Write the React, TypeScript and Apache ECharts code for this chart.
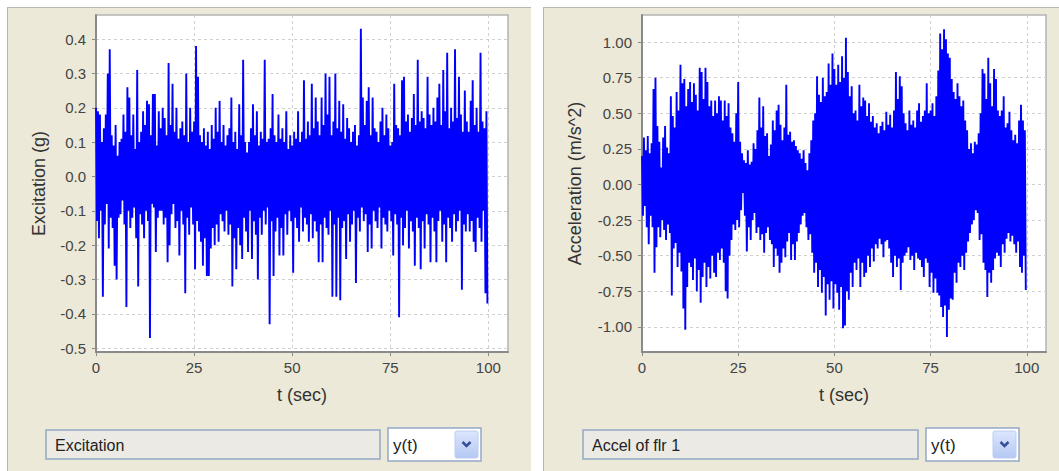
import React, { useEffect, useRef } from "react";
import * as echarts from "echarts";

// Excitation (g): upper / lower extremes read per 0.5 s bin (lower ones offset by 0.25 s)
const excitationUpper = [
  0.20,0.19,0.18,0.10,0.14,0.18,0.30,0.37,0.12,0.09,
  0.15,0.06,0.10,0.11,0.18,0.13,0.26,0.23,0.12,0.18,
  0.08,0.31,0.10,0.13,0.19,0.15,0.22,0.21,0.12,0.24,
  0.24,0.09,0.19,0.14,0.20,0.17,0.12,0.33,0.15,0.27,
  0.13,0.20,0.11,0.14,0.16,0.12,0.30,0.10,0.20,0.13,
  0.16,0.38,0.29,0.12,0.10,0.14,0.09,0.13,0.08,0.15,
  0.11,0.20,0.13,0.22,0.10,0.15,0.09,0.12,0.14,0.23,
  0.10,0.13,0.08,0.21,0.12,0.34,0.10,0.07,0.10,0.14,
  0.21,0.12,0.19,0.09,0.13,0.11,0.34,0.10,0.11,0.14,
  0.24,0.12,0.10,0.18,0.11,0.14,0.10,0.19,0.08,0.12,
  0.09,0.13,0.11,0.19,0.10,0.13,0.28,0.11,0.16,0.12,
  0.27,0.14,0.23,0.16,0.12,0.23,0.15,0.30,0.18,0.29,
  0.12,0.16,0.30,0.14,0.22,0.13,0.21,0.11,0.17,0.14,
  0.10,0.13,0.15,0.09,0.12,0.43,0.23,0.15,0.22,0.26,
  0.12,0.23,0.14,0.13,0.10,0.16,0.20,0.12,0.18,0.14,
  0.09,0.10,0.27,0.15,0.14,0.12,0.28,0.29,0.16,0.18,
  0.13,0.17,0.24,0.15,0.34,0.16,0.19,0.17,0.14,0.29,
  0.18,0.15,0.20,0.16,0.23,0.27,0.15,0.31,0.19,0.36,
  0.14,0.20,0.16,0.37,0.17,0.29,0.18,0.13,0.25,0.16,
  0.13,0.22,0.28,0.15,0.20,0.13,0.36,0.16,0.14,0.19,
];
const excitationLower = [
  -0.13,-0.18,-0.10,-0.35,-0.14,-0.08,-0.21,-0.12,-0.15,-0.26,
  -0.30,-0.12,-0.11,-0.07,-0.14,-0.38,-0.10,-0.15,-0.12,-0.09,
  -0.18,-0.32,-0.11,-0.14,-0.18,-0.10,-0.13,-0.47,-0.08,-0.09,
  -0.22,-0.12,-0.10,-0.10,-0.14,-0.12,-0.25,-0.20,-0.11,-0.08,
  -0.15,-0.13,-0.23,-0.10,-0.14,-0.34,-0.12,-0.17,-0.09,-0.14,
  -0.27,-0.13,-0.16,-0.19,-0.26,-0.18,-0.29,-0.29,-0.21,-0.15,
  -0.20,-0.14,-0.19,-0.11,-0.13,-0.16,-0.10,-0.17,-0.14,-0.32,
  -0.18,-0.27,-0.15,-0.20,-0.24,-0.12,-0.16,-0.22,-0.10,-0.24,
  -0.13,-0.17,-0.30,-0.12,-0.17,-0.10,-0.14,-0.09,-0.43,-0.13,
  -0.29,-0.16,-0.12,-0.23,-0.15,-0.23,-0.11,-0.17,-0.10,-0.13,
  -0.28,-0.12,-0.15,-0.19,-0.09,-0.16,-0.12,-0.14,-0.19,-0.11,
  -0.18,-0.13,-0.16,-0.25,-0.14,-0.25,-0.12,-0.15,-0.17,-0.10,
  -0.35,-0.14,-0.35,-0.12,-0.36,-0.15,-0.13,-0.24,-0.11,-0.19,
  -0.14,-0.10,-0.31,-0.12,-0.16,-0.09,-0.13,-0.11,-0.22,-0.14,
  -0.21,-0.10,-0.13,-0.15,-0.09,-0.21,-0.12,-0.14,-0.16,-0.10,
  -0.13,-0.23,-0.11,-0.14,-0.41,-0.12,-0.20,-0.15,-0.10,-0.21,
  -0.13,-0.16,-0.26,-0.12,-0.15,-0.27,-0.13,-0.21,-0.11,-0.14,
  -0.25,-0.12,-0.16,-0.25,-0.13,-0.10,-0.19,-0.14,-0.25,-0.12,
  -0.15,-0.19,-0.11,-0.16,-0.13,-0.10,-0.33,-0.14,-0.16,-0.11,
  -0.16,-0.13,-0.19,-0.22,-0.12,-0.15,-0.19,-0.10,-0.34,-0.37,
];

// Acceleration of floor 1 (m/s^2)
const accelUpper = [
  0.20,0.33,0.24,0.34,0.22,0.29,0.67,0.75,0.41,0.30,
  0.12,0.33,0.41,0.26,0.22,0.62,0.48,0.40,0.65,0.52,
  0.84,0.71,0.74,0.55,0.67,0.72,0.58,0.71,0.63,0.52,
  0.82,0.79,0.60,0.82,0.72,0.55,0.59,0.48,0.59,0.50,
  0.62,0.59,0.45,0.59,0.48,0.57,0.40,0.36,0.30,0.50,
  0.72,0.30,0.22,0.17,0.15,0.24,0.14,0.16,0.29,0.25,
  0.38,0.61,0.40,0.55,0.34,0.36,0.20,0.28,0.45,0.38,
  0.52,0.56,0.42,0.31,0.40,0.70,0.35,0.37,0.30,0.31,
  0.27,0.24,0.22,0.18,0.24,0.15,0.10,0.22,0.31,0.45,
  0.50,0.76,0.63,0.58,0.75,0.62,0.65,0.85,0.70,0.92,
  0.81,0.70,0.84,0.72,0.90,0.75,1.03,0.79,0.62,0.69,
  0.50,0.52,0.45,0.70,0.55,0.61,0.59,0.48,0.57,0.44,
  0.48,0.40,0.43,0.36,0.41,0.44,0.38,0.51,0.42,0.49,
  0.40,0.52,0.79,0.60,0.76,0.69,0.50,0.43,0.38,0.52,
  0.42,0.45,0.40,0.52,0.57,0.44,0.48,0.52,0.71,0.50,
  0.52,0.57,0.48,0.62,0.80,1.06,0.95,1.09,1.02,0.92,
  0.89,0.74,0.65,0.60,0.71,0.62,0.55,0.59,0.45,0.38,
  0.25,0.29,0.22,0.30,0.28,0.36,0.50,0.81,0.78,0.60,
  0.89,0.71,0.55,0.81,0.74,0.52,0.48,0.52,0.62,0.40,
  0.43,0.51,0.38,0.31,0.35,0.29,0.45,0.56,0.45,0.38,
];
const accelLower = [
  -0.22,-0.15,-0.30,-0.42,-0.22,-0.30,-0.62,-0.44,-0.30,-0.37,
  -0.25,-0.32,-0.39,-0.28,-0.34,-0.78,-0.45,-0.41,-0.58,-0.48,
  -0.61,-0.87,-1.02,-0.72,-0.55,-0.58,-0.67,-0.52,-0.75,-0.60,
  -0.83,-0.65,-0.55,-0.72,-0.58,-0.66,-0.50,-0.62,-0.65,-0.48,
  -0.53,-0.45,-0.55,-0.75,-0.80,-0.50,-0.39,-0.28,-0.32,-0.25,
  -0.30,-0.18,-0.06,-0.22,-0.47,-0.30,-0.39,-0.25,-0.20,-0.34,
  -0.30,-0.39,-0.35,-0.48,-0.34,-0.30,-0.39,-0.42,-0.58,-0.45,
  -0.50,-0.62,-0.55,-0.45,-0.51,-0.40,-0.34,-0.53,-0.42,-0.53,
  -0.40,-0.34,-0.28,-0.22,-0.20,-0.30,-0.39,-0.35,-0.48,-0.62,
  -0.55,-0.72,-0.60,-0.76,-0.65,-0.92,-0.70,-0.81,-0.68,-0.87,
  -0.70,-0.76,-0.88,-0.72,-1.01,-0.99,-0.75,-0.81,-0.62,-0.72,
  -0.55,-0.60,-0.52,-0.72,-0.55,-0.65,-0.62,-0.50,-0.58,-0.45,
  -0.54,-0.42,-0.45,-0.38,-0.42,-0.51,-0.40,-0.39,-0.45,-0.55,
  -0.65,-0.50,-0.58,-0.52,-0.74,-0.55,-0.50,-0.48,-0.44,-0.53,
  -0.50,-0.60,-0.48,-0.52,-0.53,-0.58,-0.65,-0.52,-0.55,-0.72,
  -0.62,-0.76,-0.66,-0.76,-0.78,-0.86,-0.93,-0.85,-1.07,-0.88,
  -0.80,-0.81,-0.62,-0.69,-0.55,-0.58,-0.50,-0.60,-0.48,-0.40,
  -0.34,-0.28,-0.25,-0.18,-0.20,-0.39,-0.35,-0.55,-0.60,-0.79,
  -0.62,-0.69,-0.60,-0.52,-0.48,-0.50,-0.58,-0.42,-0.48,-0.38,
  -0.34,-0.40,-0.36,-0.42,-0.48,-0.40,-0.58,-0.62,-0.50,-0.74,
];

const BIN = 0.5;
const xTicks = [0, 25, 50, 75, 100];
const excitationTicks = [-0.5, -0.4, -0.3, -0.2, -0.1, 0, 0.1, 0.2, 0.3, 0.4];
const accelTicks = [-1, -0.75, -0.5, -0.25, 0, 0.25, 0.5, 0.75, 1];

function interleave(up: number[], lo: number[]) {
  const out: number[][] = [];
  for (let i = 0; i < up.length; i++) {
    out.push([i * BIN, up[i]]);
    out.push([i * BIN + BIN / 2, lo[i]]);
  }
  return out;
}

const FONT = '"Liberation Sans", Arial, sans-serif';
const AXIS_GRAY = "#8a8a8a";

function xAxisCfg(gridIndex: number) {
  return {
    gridIndex,
    type: "value",
    min: 0,
    max: 105,
    name: "t (sec)",
    nameLocation: "middle",
    nameGap: 34,
    nameTextStyle: { fontSize: 18, color: "#333", fontFamily: FONT },
    axisLine: { show: true, onZero: false, lineStyle: { color: AXIS_GRAY, width: 2 } },
    axisTick: { show: true, length: 4, customValues: xTicks, lineStyle: { color: AXIS_GRAY } },
    axisLabel: { customValues: xTicks, fontSize: 15, color: "#444", margin: 8, fontFamily: FONT },
    splitLine: { show: true, lineStyle: { color: "#d0d0d0", type: [3, 3] } },
  };
}

function yAxisCfg(gridIndex: number, name: string, min: number, max: number, ticks: number[], dec: number, gap: number) {
  return {
    gridIndex,
    type: "value",
    min,
    max,
    name,
    nameLocation: "middle",
    nameGap: gap,
    nameTextStyle: { fontSize: 18, color: "#333", fontFamily: FONT },
    axisLine: { show: true, onZero: false, lineStyle: { color: AXIS_GRAY, width: 2 } },
    axisTick: { show: true, length: 4, customValues: ticks, lineStyle: { color: AXIS_GRAY } },
    axisLabel: {
      customValues: ticks,
      fontSize: 15,
      color: "#444",
      margin: 10,
      fontFamily: FONT,
      formatter: (v: number) => v.toFixed(dec),
    },
    splitLine: { show: true, lineStyle: { color: "#d0d0d0", type: [3, 3] } },
  };
}

function widget(fieldX: number, fieldW: number, label: string, comboX: number) {
  const y = 430;
  return [
    { type: "rect", shape: { x: fieldX, y, width: fieldW, height: 29 }, style: { fill: "#ebeae4", stroke: "#93a9c6", lineWidth: 1.5 } },
    { type: "text", x: fieldX + 9, y: y + 15, style: { text: label, font: `16px ${FONT}`, fill: "#222", verticalAlign: "middle" } },
    { type: "rect", shape: { x: comboX, y: y - 2, width: 93, height: 33 }, style: { fill: "#ffffff", stroke: "#93a9c6", lineWidth: 1.5 } },
    { type: "text", x: comboX + 5, y: y + 15, style: { text: "y(t)", font: `17px ${FONT}`, fill: "#222", verticalAlign: "middle" } },
    {
      type: "rect",
      shape: { x: comboX + 67, y: y + 1, width: 23, height: 27, r: 2 },
      style: {
        fill: new echarts.graphic.LinearGradient(0, 0, 0, 1, [
          { offset: 0, color: "#dce7fd" },
          { offset: 1, color: "#b4c8f3" },
        ]),
        stroke: "#bccdf2",
        lineWidth: 1,
      },
    },
    {
      type: "polyline",
      shape: { points: [[comboX + 74.5, y + 12], [comboX + 78.5, y + 16], [comboX + 82.5, y + 12]] },
      style: { stroke: "#34509a", lineWidth: 2.5, fill: null },
    },
  ];
}

export default function App() {
  const ref = useRef<HTMLDivElement>(null);
  useEffect(() => {
    if (!ref.current) return;
    const chart = echarts.init(ref.current, null, { renderer: "svg" });
    chart.setOption({
      animation: false,
      grid: [
        { left: 96, top: 15, width: 412, height: 337, show: true, backgroundColor: "#ffffff", borderColor: "#b4b4b4", borderWidth: 1.5 },
        { left: 642, top: 15, width: 404, height: 337, show: true, backgroundColor: "#ffffff", borderColor: "#b4b4b4", borderWidth: 1.5 },
      ],
      xAxis: [xAxisCfg(0), xAxisCfg(1)],
      yAxis: [
        yAxisCfg(0, "Excitation (g)", -0.511, 0.47, excitationTicks, 1, 48),
        yAxisCfg(1, "Acceleration (m/s^2)", -1.176, 1.19, accelTicks, 2, 58),
      ],
      graphic: [...widget(46, 334, "Excitation", 388), ...widget(583, 335, "Accel of flr 1", 926)],
      series: [
        {
          type: "line",
          xAxisIndex: 0,
          yAxisIndex: 0,
          data: interleave(excitationUpper, excitationLower),
          showSymbol: false,
          lineStyle: { color: "#0000ff", width: 1.9 },
          itemStyle: { color: "#0000ff" },
        },
        {
          type: "line",
          xAxisIndex: 1,
          yAxisIndex: 1,
          data: interleave(accelUpper, accelLower),
          showSymbol: false,
          lineStyle: { color: "#0000ff", width: 1.9 },
          itemStyle: { color: "#0000ff" },
        },
      ],
    });
    return () => chart.dispose();
  }, []);

  return (
    <div style={{ position: "fixed", left: 0, top: 0, width: 1059, height: 471, background: "#ffffff", overflow: "hidden" }}>
      <div style={{ position: "absolute", left: 7, top: 7, width: 523, height: 464, background: "#ece9d8", borderLeft: "1px solid #b8b8b0", borderTop: "1px solid #b8b8b0" }} />
      <div style={{ position: "absolute", left: 543, top: 7, width: 516, height: 464, background: "#ece9d8", borderLeft: "1px solid #b8b8b0", borderTop: "1px solid #b8b8b0" }} />
      <div ref={ref} style={{ position: "absolute", left: 0, top: 0, width: 1059, height: 471 }} />
    </div>
  );
}
